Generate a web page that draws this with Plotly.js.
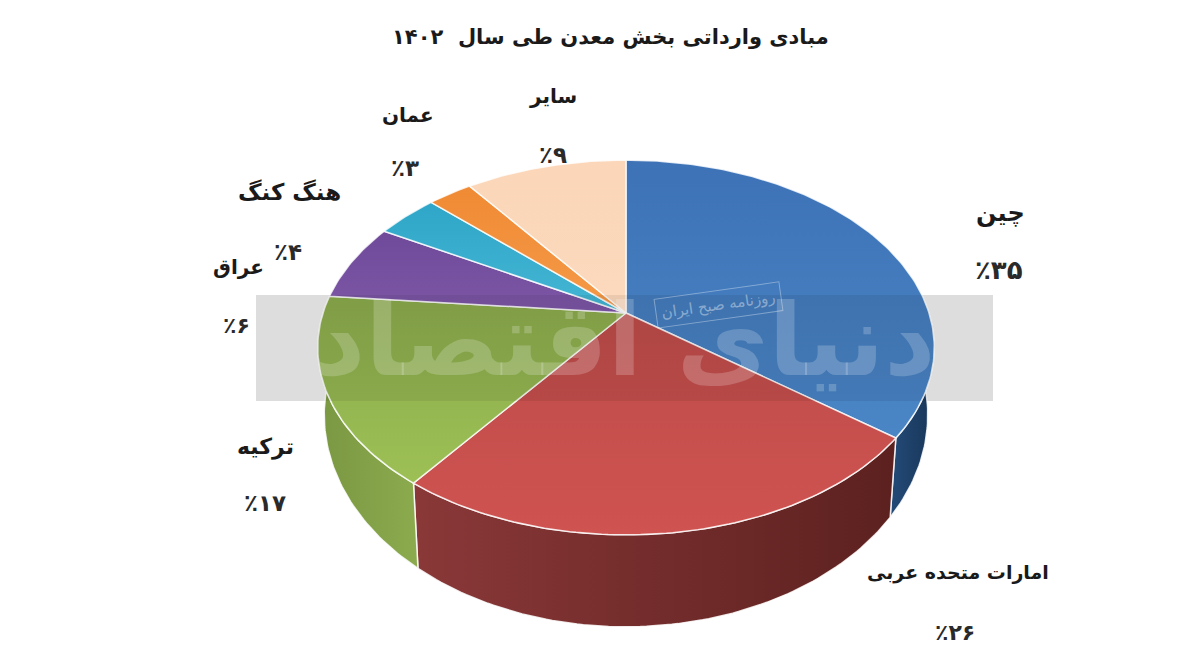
<!DOCTYPE html>
<html lang="fa"><head><meta charset="utf-8">
<script src="https://cdn.plot.ly/plotly-3.0.1.min.js"></script>
<style>html,body{margin:0;padding:0;background:#fff}#chart{width:1200px;height:664px}</style>
</head><body><div id="chart"></div>
<script>
// ---- data ----
const chartTitle = 'مبادی وارداتی بخش معدن طی سال  ۱۴۰۲';
const categories = ['چین','امارات متحده عربی','ترکیه','عراق','هنگ کنگ','عمان','سایر'];
const printedPercents = ['۳۵','۲۶','۱۷','۶','۴','۳','۹'];
// slice sizes as actually drawn in the picture (percent of the circle)
const sliceShares = [35.5, 24.7, 16.3, 6.7, 3.9, 2.8, 10.1];
const watermarkMain = 'دنیای اقتصاد';
const watermarkSmall = 'روزنامه صبح ایران';

// ---- styles ----
const topColors = [
  ['#4a86c6','#3d72b6'], ['#cf5350','#bd4c4a'], ['#9dc055','#8aaa4c'],
  ['#7d57a6','#6f4a9a'], ['#45b6d4','#2fa6c8'], ['#f59a48','#f08a34'], ['#fcd9bd','#fbd6b8']];
const wallColors = [
  ['#234b78','#183558'], ['#8a3838','#5c211f'], ['#7a9742','#8cab4e'],
  null, null, null, null];
const labelFont = 'DejaVu Sans';
const nameSizes = [24,19,22,20,23,20,20];
const pctSizes  = [26,22,23,22,23,23,23];
const nameAnchors = [[1000,213],[958,572],[265,447],[238,267],[289,192],[408,115],[553,96]];
const pctAnchors  = [[999,270],[955,632],[265,503],[236,325],[288,252],[405,168],[553,155]];

// ---- projection of the tilted disc ----
const apex = {x:626, y:313};
const persp = 0.184, sx = 303, sy = 181;
const topMid = 347.5, topRx = 308.5, topRy = 187.5;
const baseMid = 415, baseRx = 302, baseRy = 212;
function project(deg, isBottom){
  const a = deg*Math.PI/180, u = Math.sin(a), v = -Math.cos(a), w = 1-persp*v;
  const x = apex.x + sx*u/w, y = apex.y + sy*v/w;
  if(!isBottom) return [x,y];
  return [apex.x + (x-apex.x)*baseRx/topRx, baseMid + (y-topMid)*baseRy/topRy];
}
function arc(a,b,isBottom){
  const pts=[], n=Math.max(2,Math.ceil(Math.abs(b-a)));
  for(let i=0;i<=n;i++) pts.push(project(a+(b-a)*i/n,isBottom));
  return pts;
}
const traces = [];
function poly(pts, colors, gradType, lineColor, lineWidth){
  traces.push({type:'scatter',mode:'lines',hoverinfo:'skip',showlegend:false,
    x:pts.map(p=>p[0]),y:pts.map(p=>p[1]),fill:'toself',
    fillgradient:{type:gradType,colorscale:[[0,colors[0]],[1,colors[1]]]},
    line:{color:lineColor,width:lineWidth}});
}
const bounds=[0]; sliceShares.forEach(s=>bounds.push(bounds[bounds.length-1]+s*3.6));
const visFrom=82, visTo=275;
// side walls
categories.forEach((c,i)=>{
  if(!wallColors[i]) return;
  const a=Math.max(bounds[i],visFrom), b=Math.min(bounds[i+1],visTo);
  if(b<=a) return;
  const pts=arc(a,b,false).concat(arc(b,a,true)); pts.push(pts[0]);
  poly(pts,wallColors[i],'horizontal','rgba(255,255,255,0.85)',1.5);
});
// top slices
categories.forEach((c,i)=>{
  const pts=[[apex.x,apex.y]].concat(arc(bounds[i],bounds[i+1],false)); pts.push([apex.x,apex.y]);
  poly(pts,topColors[i],'vertical','rgba(255,255,255,0.8)',1.5);
});

const annotations=[];
function note(text,x,y,size,color,extra){
  annotations.push(Object.assign({text,x,y,xref:'x',yref:'y',showarrow:false,
    xanchor:'center',yanchor:'middle',font:{family:labelFont,size,color}},extra||{}));
}
note('<b>'+chartTitle+'</b>',610,37,21,'#1a1a1a');
categories.forEach((c,i)=>{
  note('<b>'+c+'</b>',nameAnchors[i][0],nameAnchors[i][1],nameSizes[i],'#1a1a1a');
  note('<b>٪'+printedPercents[i]+'</b>',pctAnchors[i][0],pctAnchors[i][1],pctSizes[i],'#2a2a2a');
});
note('<b>'+watermarkMain+'</b>',625,340,100,'rgba(255,255,255,0.2)');
note(watermarkSmall,718,305,15,'rgba(255,255,255,0.4)',{textangle:-8,bordercolor:'rgba(255,255,255,0.35)',borderwidth:1,borderpad:5});

const layout={
  width:1200,height:664,margin:{l:0,r:0,t:0,b:0},paper_bgcolor:'#fff',plot_bgcolor:'#fff',showlegend:false,
  xaxis:{range:[0,1200],visible:false,fixedrange:true},
  yaxis:{range:[664,0],visible:false,fixedrange:true},
  shapes:[
    {type:'rect',xref:'x',yref:'y',x0:256,x1:993,y0:295,y1:401,layer:'below',fillcolor:'#eeeeee',line:{width:0}},
    {type:'rect',xref:'x',yref:'y',x0:256,x1:993,y0:295,y1:401,layer:'above',fillcolor:'rgba(0,0,0,0.07)',line:{width:0}}
  ],
  annotations
};
Plotly.newPlot('chart',traces,layout,{displayModeBar:false,staticPlot:true});
</script></body></html>
